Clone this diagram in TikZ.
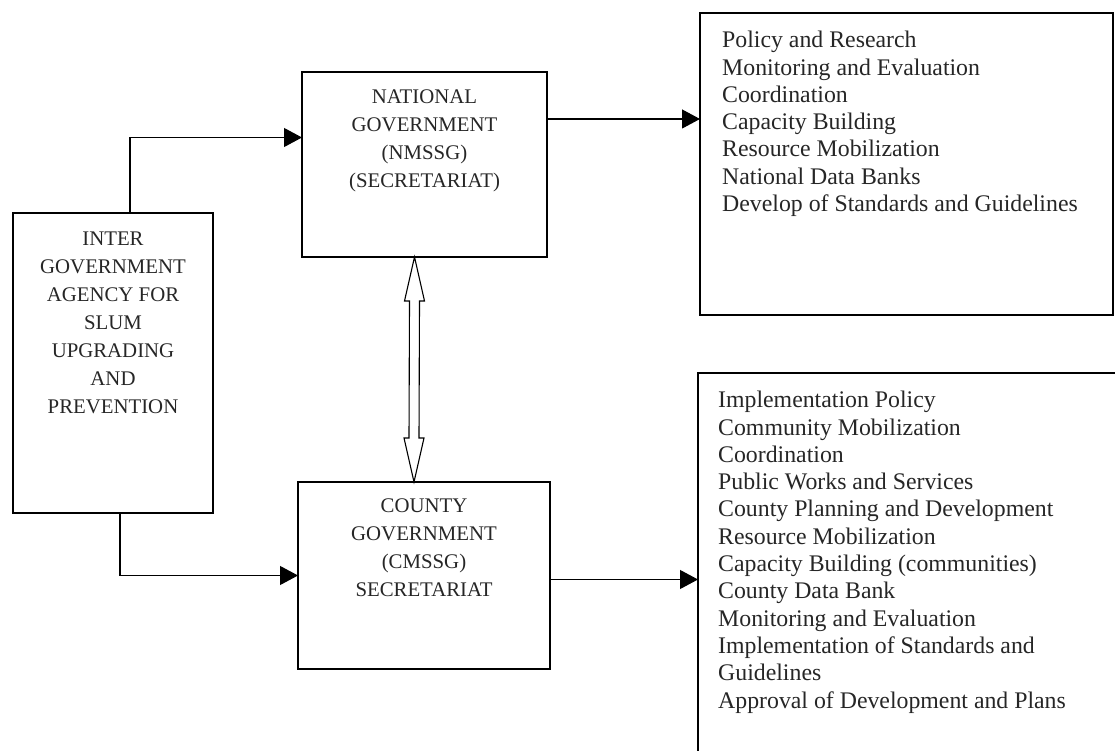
\documentclass[tikz,border=0pt]{standalone}
\usepackage{fontspec}
\setmainfont{Liberation Serif}
\usetikzlibrary{arrows.meta,calc}
\begin{document}
\begin{tikzpicture}[x=1pt,y=1pt,
  box/.style={draw,line width=1.1pt,inner sep=0pt,outer sep=0pt},
  capstext/.style={font=\fontsize{20.8}{28}\selectfont,align=center,inner sep=0pt,anchor=north,text=black!85},
  listtext/.style={font=\fontsize{23.8}{27.3}\selectfont,align=left,inner sep=0pt,anchor=north west,text=black!85},
  arr/.style={line width=1.1pt,-{Triangle[length=18pt,width=19pt]}},
  hollow/.style={draw,line width=1.1pt,fill=white,line join=miter}]
\useasboundingbox (0,0) rectangle (1115,751);
\clip (0,0) rectangle (1115,751);
% boxes
\node[box,minimum width=200pt,minimum height=300pt] (iga) at (113,388) {};
\node[box,minimum width=245pt,minimum height=185pt] (ng) at (424.5,586.5) {};
\node[box,minimum width=252pt,minimum height=187pt] (cg) at (424,175.5) {};
\node[box,minimum width=413pt,minimum height=302pt] (pr) at (906.5,587) {};
\node[box,minimum width=427pt,minimum height=397pt] (ir) at (911.5,179.5) {};
% texts
\node[capstext] (igat) at ([yshift=-18.4pt]iga.north) {INTER\\GOVERNMENT\\AGENCY FOR\\SLUM\\UPGRADING\\AND\\PREVENTION};
\node[capstext] (ngt) at ([yshift=-17.4pt]ng.north) {NATIONAL\\GOVERNMENT\\(NMSSG)\\(SECRETARIAT)};
\node[capstext] (cgt) at ([yshift=-16.4pt]cg.north) {COUNTY\\GOVERNMENT\\(CMSSG)\\SECRETARIAT};
\node[listtext] (prt) at ([xshift=22pt,yshift=-18pt]pr.north west) {Policy and Research\\Monitoring and Evaluation\\Coordination\\Capacity Building\\Resource Mobilization\\National Data Banks\\Develop of Standards and Guidelines};
\node[listtext] (irt) at ([xshift=20pt,yshift=-18pt]ir.north west) {Implementation Policy\\Community Mobilization\\Coordination\\Public Works and Services\\County Planning and Development\\Resource Mobilization\\Capacity Building (communities)\\County Data Bank\\Monitoring and Evaluation\\Implementation of Standards and\\Guidelines\\Approval of Development and Plans};
% connectors
\coordinate (c1) at ([xshift=17pt]iga.north);
\coordinate (c2) at ([yshift=27pt]ng.west);
\draw[arr] (c1) |- (c2);
\coordinate (c3) at ([xshift=7pt]iga.south);
\draw[arr] (c3) |- (cg.west);
\coordinate (c4) at ([yshift=45.5pt]ng.east);
\draw[arr] (c4) -- (c4 -| pr.west);
\coordinate (c5) at ([yshift=-4pt]cg.east);
\draw[arr] (c5) -- (c5 -| ir.west);
% hollow double arrow
\coordinate (dt) at ([xshift=-10pt]ng.south);
\coordinate (db) at ([xshift=-10pt]cg.north);
\draw[hollow] (dt) -- ($(dt)+(-10,-44)$) -- ($(dt)+(-5,-44)$) -- ($(db)+(-5,44)$) -- ($(db)+(-10,44)$) -- (db)
  -- ($(db)+(10,44)$) -- ($(db)+(5,44)$) -- ($(dt)+(5,-44)$) -- ($(dt)+(10,-44)$) -- cycle;
\end{tikzpicture}
\end{document}
